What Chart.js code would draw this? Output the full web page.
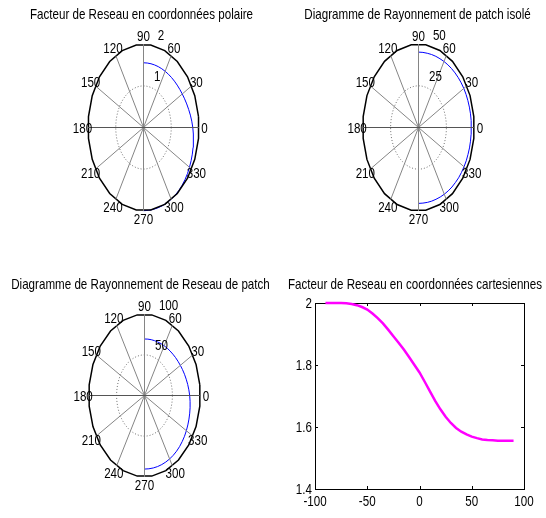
<!DOCTYPE html>
<html><head><meta charset="utf-8">
<script src="https://cdn.jsdelivr.net/npm/chart.js@4/dist/chart.umd.min.js"></script>
<style>
html,body{margin:0;padding:0;background:#fff;}
#wrap{position:relative;width:546px;height:518px;overflow:hidden;background:#fff}
canvas{position:absolute}
</style></head><body>
<div id="wrap">
<canvas id="c1" width="273" height="259" style="left:0;top:0"></canvas>
<canvas id="c2" width="273" height="259" style="left:273px;top:0"></canvas>
<canvas id="c3" width="273" height="259" style="left:0;top:259px"></canvas>
<canvas id="c4" width="273" height="259" style="left:273px;top:259px"></canvas>
</div>
<script>
// ---------- DATA ----------
const thetaDeg = [-90,-85,-80,-75,-70,-65,-60,-55,-50,-45,-40,-35,-30,-25,-20,-15,-10,-5,0,
                  5,10,15,20,25,30,35,40,45,50,55,60,65,70,75,80,85,90];
const arrayFactor = [2.000,2.000,2.000,2.000,1.999,1.997,1.993,1.987,1.979,1.966,1.951,1.934,1.914,1.893,1.872,1.850,1.826,1.801,1.776,
                     1.746,1.715,1.684,1.657,1.633,1.613,1.597,1.585,1.576,1.569,1.564,1.560,1.558,1.557,1.556,1.556,1.556,1.556];
const patchPattern = [45.5,45.5,45.6,45.7,45.8,46.0,46.2,46.4,46.6,46.7,46.9,47.0,47.1,47.2,47.2,47.3,47.3,47.3,47.3,
                      47.3,47.3,47.2,47.1,47.0,46.9,46.7,46.5,46.3,46.1,45.9,45.7,45.5,45.4,45.3,45.2,45.2,45.2];
const arrayPattern = [90.5,90.5,90.5,90.5,90.4,90.3,90.1,89.8,89.4,88.9,88.2,87.5,86.6,85.7,84.8,83.9,83.0,82.0,81.0,
                      79.8,78.6,77.4,76.3,75.2,74.2,73.3,72.6,71.9,71.4,71.0,70.6,70.3,70.0,69.8,69.7,69.6,69.5];
const angleTicks = [0,30,60,90,120,150,180,210,240,270,300,330];
const rTicksAF = [1,2];
const rTicksPatch = [25,50];
const rTicksArray = [50,100];
const cartXTicks = [-100,-50,0,50,100];
const cartYTicks = [1.4,1.6,1.8,2];
const titles = [
  'Facteur de Reseau en coordonnées polaire',
  'Diagramme de Rayonnement de patch isolé',
  'Diagramme de Rayonnement de Reseau de patch',
  'Facteur de Reseau en coordonnées cartesiennes'
];

// ---------- STYLE ----------
const FAMILY = '"Liberation Sans", Arial, sans-serif';
const FS = 14.5;
const SQ = 0.8;          // horizontal squeeze of the text (narrow look)
const W = 273, H = 259;

function drawText(ctx, text, x, y, align, baseline) {
  ctx.save();
  ctx.translate(x, y);
  ctx.scale(SQ, 1);
  ctx.font = FS + 'px ' + FAMILY;
  ctx.fillStyle = '#000';
  ctx.textAlign = align;
  ctx.textBaseline = baseline;
  ctx.fillText(text, 0, 0);
  ctx.restore();
}

const titlePlugin = (text, x, y) => ({
  id: 'ttl',
  afterDraw(chart) { drawText(chart.ctx, text, x, y, 'center', 'alphabetic'); }
});

function polarChart(id, title, titlePos, theta, r, rTicks, geom) {
  const rmax = rTicks[rTicks.length - 1];
  const step = rTicks.length > 1 ? rTicks[1] - rTicks[0] : rmax;
  const ux = geom.rx / rmax, uy = geom.ry / rmax;
  const xmin = -geom.cx / ux, xmax = (W - geom.cx) / ux;
  const ymax = geom.cy / uy, ymin = -(H - geom.cy) / uy;
  const P = (deg, rr) => ({ x: rr * Math.cos(deg * Math.PI / 180), y: rr * Math.sin(deg * Math.PI / 180) });
  const ds = [];
  for (let a = 0; a < 180; a += 30) {
    ds.push({ data: [P(a, rmax), P(a + 180, rmax)], borderColor: a === 0 ? '#555555' : '#858585', borderWidth: 1 });
  }
  rTicks.slice(0, -1).forEach(rt => {
    const pts = [];
    for (let k = 0; k <= 72; k++) pts.push(P(k * 5, rt));
    ds.push({ data: pts, borderColor: '#707070', borderWidth: 1, borderDash: [1, 2] });
  });
  const outer = [];
  for (let k = 0; k <= 24; k++) outer.push(P(7.5 + k * 15, rmax));
  ds.push({ data: outer, borderColor: '#000', borderWidth: 1.5 });
  ds.push({ data: theta.map((t, i) => P(t, r[i])), borderColor: '#0000ff', borderWidth: 1 });
  ds.forEach(d => { d.showLine = true; d.pointRadius = 0; d.fill = false; d.tension = 0; d.clip = false; });

  const labelPlugin = {
    id: 'plabels',
    afterDatasetsDraw(chart) {
      const ctx = chart.ctx, sx = chart.scales.x, sy = chart.scales.y;
      angleTicks.forEach(a => {
        const p = P(a, rmax * 1.1);
        drawText(ctx, String(a), sx.getPixelForValue(p.x), sy.getPixelForValue(p.y) + 1, 'center', 'middle');
      });
      rTicks.forEach(rt => {
        const p = P(82, rt + step / 20);
        drawText(ctx, '  ' + rt, sx.getPixelForValue(p.x), sy.getPixelForValue(p.y), 'left', 'bottom');
      });
    }
  };

  return new Chart(document.getElementById(id), {
    type: 'scatter',
    data: { datasets: ds },
    options: {
      responsive: false, animation: false, events: [],
      layout: { padding: 0 },
      plugins: { legend: { display: false }, tooltip: { enabled: false }, title: { display: false } },
      scales: {
        x: { type: 'linear', display: false, min: xmin, max: xmax },
        y: { type: 'linear', display: false, min: ymin, max: ymax }
      }
    },
    plugins: [labelPlugin, titlePlugin(title, titlePos[0], titlePos[1])]
  });
}

polarChart('c1', titles[0], [141.5, 18.5], thetaDeg, arrayFactor, rTicksAF,
  { cx: 143.5, cy: 127.5, rx: 55.5, ry: 83.2 });
polarChart('c2', titles[1], [144.5, 18.5], thetaDeg, patchPattern, rTicksPatch,
  { cx: 145.5, cy: 127.5, rx: 55.8, ry: 83.4 });
polarChart('c3', titles[2], [140.5, 30], thetaDeg, arrayPattern, rTicksArray,
  { cx: 144.5, cy: 136.5, rx: 55.8, ry: 81.3 });

// ---------- cartesian chart ----------
const boxPlugin = {
  id: 'box',
  beforeDatasetsDraw(chart) {
    const ctx = chart.ctx, a = chart.chartArea, sx = chart.scales.x, sy = chart.scales.y;
    ctx.save();
    ctx.strokeStyle = '#000';
    ctx.lineWidth = 1;
    ctx.strokeRect(a.left + 0.5, a.top + 0.5, a.right - a.left, a.bottom - a.top);
    ctx.beginPath();
    sx.ticks.forEach(t => {
      const x = Math.round(sx.getPixelForValue(t.value)) + 0.5;
      ctx.moveTo(x, a.bottom); ctx.lineTo(x, a.bottom - 3);
      ctx.moveTo(x, a.top); ctx.lineTo(x, a.top + 3);
    });
    sy.ticks.forEach(t => {
      const y = Math.round(sy.getPixelForValue(t.value)) + 0.5;
      ctx.moveTo(a.left, y); ctx.lineTo(a.left + 3, y);
      ctx.moveTo(a.right, y); ctx.lineTo(a.right - 3, y);
    });
    ctx.stroke();
    ctx.restore();
  },
  afterDraw(chart) {
    const a = chart.chartArea, sx = chart.scales.x, sy = chart.scales.y, ctx = chart.ctx;
    sx.ticks.forEach(t => {
      drawText(ctx, String(t.value), sx.getPixelForValue(t.value), a.bottom + 17, 'center', 'alphabetic');
    });
    sy.ticks.forEach(t => {
      drawText(ctx, String(+Number(t.value).toFixed(1)), a.left - 3, sy.getPixelForValue(t.value) + 5, 'right', 'alphabetic');
    });
  }
};

new Chart(document.getElementById('c4'), {
  type: 'scatter',
  data: { datasets: [{
    data: thetaDeg.map((t, i) => ({ x: t, y: arrayFactor[i] })),
    showLine: true, borderColor: '#ff00ff', borderWidth: 2.5, pointRadius: 0, tension: 0, clip: false
  }]},
  options: {
    responsive: false, animation: false, events: [],
    layout: { padding: { left: 0, right: 22, top: 44, bottom: 0 } },
    plugins: { legend: { display: false }, tooltip: { enabled: false }, title: { display: false } },
    scales: {
      x: {
        type: 'linear', min: -100, max: 100,
        afterBuildTicks: s => { s.ticks = cartXTicks.map(v => ({ value: v })); },
        afterFit: s => { s.height = 29; },
        grid: { display: false, drawTicks: false }, border: { display: false },
        ticks: { display: false }
      },
      y: {
        type: 'linear', min: 1.4, max: 2,
        afterBuildTicks: s => { s.ticks = cartYTicks.map(v => ({ value: v })); },
        afterFit: s => { s.width = 42; },
        grid: { display: false, drawTicks: false }, border: { display: false },
        ticks: { display: false }
      }
    }
  },
  plugins: [boxPlugin, titlePlugin(titles[3], 142, 30.3)]
});
</script>
</body></html>
